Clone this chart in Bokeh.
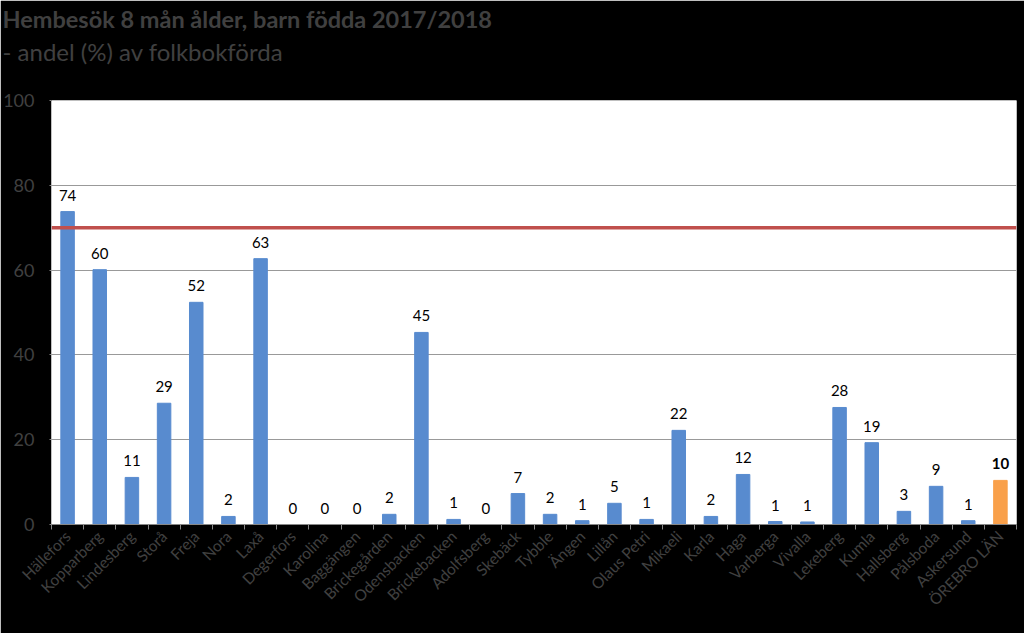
import numpy as np
from bokeh.plotting import figure
from bokeh.models import ColumnDataSource, FixedTicker, Span, Title, Range1d
from bokeh.core.properties import value
from bokeh.embed import file_html
from bokeh.resources import INLINE

categories = ["Hällefors", "Kopparberg", "Lindesberg", "Storå", "Freja", "Nora", "Laxå",
              "Degerfors", "Karolina", "Baggängen", "Brickegården", "Odensbacken",
              "Brickebacken", "Adolfsberg", "Skebäck", "Tybble", "Ängen", "Lillån",
              "Olaus Petri", "Mikaeli", "Karla", "Haga", "Varberga", "Vivalla", "Lekeberg",
              "Kumla", "Hallsberg", "Pålsboda", "Askersund", "ÖREBRO LÄN"]
values = [73.8, 60.1, 11.1, 28.6, 52.4, 1.9, 62.7, 0.0, 0.0, 0.0, 2.4, 45.3,
          1.2, 0.0, 7.3, 2.4, 0.9, 5.0, 1.2, 22.2, 1.9, 11.8, 0.7, 0.6, 27.6,
          19.3, 3.1, 9.0, 0.9, 10.4]
target = 70
y_ticks = [0, 20, 40, 60, 80, 100]

FONT = "Lato"
GREY = "#404040"
BLUE = "#588BCF"
ORANGE = "#F9A04A"

n = len(categories)
centers = [i + 0.5 for i in range(n)]
bounds = list(range(n + 1))
colors = [BLUE] * (n - 1) + [ORANGE]
labels = [f"{v:.0f}" for v in values]
styles = ["normal"] * (n - 1) + ["bold"]

src = ColumnDataSource(dict(x=centers, top=values, color=colors, label=labels, style=styles))

p = figure(width=1024, height=633, output_backend="svg", toolbar_location=None,
           title="Hembesök 8 mån ålder, barn födda 2017/2018",
           x_range=Range1d(0, n), y_range=Range1d(0, 100),
           min_border_left=50, min_border_right=8, min_border_top=100, min_border_bottom=109)
p.background_fill_color = "white"
p.border_fill_color = "black"
p.outline_line_color = None

p.title.text_font = FONT
p.title.text_font_size = "23.5px"
p.title.text_font_style = "bold"
p.title.text_color = GREY
p.title.offset = -49
p.title.standoff = 0

# spacer between the subtitle and the plot frame (nearest to the frame)
p.add_layout(Title(text=" ", text_font=FONT, text_font_size="25px",
                   text_color="black", standoff=0), "above")
p.add_layout(Title(text="- andel (%) av folkbokförda",
                   text_font=FONT, text_font_size="24px", text_font_style="normal",
                   text_color=GREY, offset=-49, standoff=5), "above")

p.vbar(x="x", top="top", width=0.42, color="color", source=src)
p.text(x="x", y="top", text="label", text_font=value(FONT), text_font_size="15px",
       text_font_style="style", text_color="black", text_align="center",
       text_baseline="bottom", y_offset=-11, source=src)

p.add_layout(Span(location=target, dimension="width", line_color="#C0504D", line_width=3.5))

xa = p.xaxis[0]
xa.ticker = FixedTicker(ticks=centers, minor_ticks=bounds)
xa.major_label_overrides = {c: lab for c, lab in zip(centers, categories)}
xa.major_label_orientation = np.pi / 4
xa.major_tick_out = 0
xa.major_tick_in = 0
xa.minor_tick_out = 5
xa.minor_tick_in = 0
xa.minor_tick_line_color = "#888888"
xa.axis_line_color = "#888888"
xa.major_label_text_font = FONT
xa.major_label_text_font_size = "15.5px"
xa.major_label_text_color = GREY
xa.major_label_standoff = 4

ya = p.yaxis[0]
ya.ticker = FixedTicker(ticks=y_ticks)
ya.axis_line_color = None
ya.major_tick_out = 2
ya.major_tick_in = 0
ya.major_tick_line_color = "#888888"
ya.minor_tick_line_color = None
ya.major_label_text_font = FONT
ya.major_label_text_font_size = "18px"
ya.major_label_text_color = GREY
ya.major_label_standoff = 15

p.xgrid.grid_line_color = None
p.ygrid.grid_line_color = "#999999"
p.ygrid.grid_line_width = 1

open("out.html", "w").write(file_html(p, INLINE))
